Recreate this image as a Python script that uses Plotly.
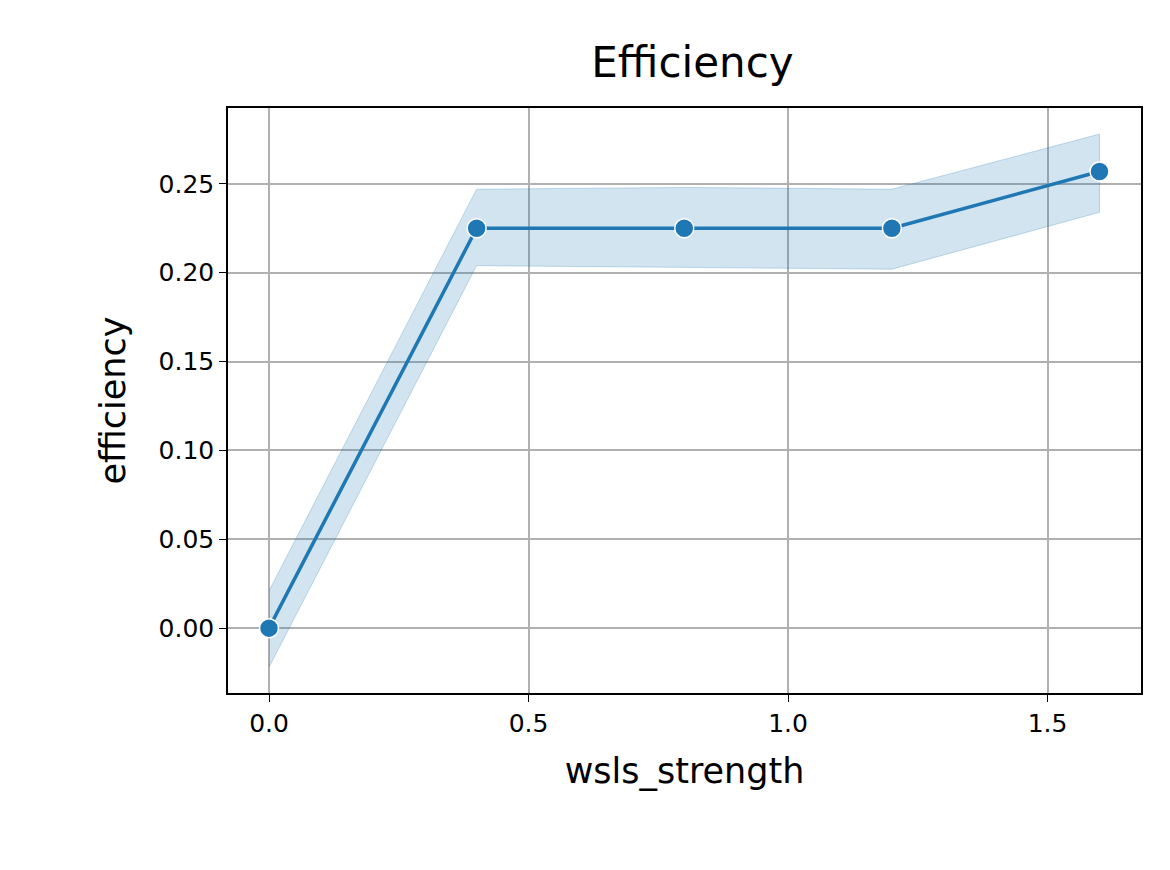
import plotly.graph_objects as go

x = [0.0, 0.4, 0.8, 1.2, 1.6]
mean = [0.0, 0.225, 0.225, 0.225, 0.257]
upper = [0.021, 0.247, 0.248, 0.247, 0.278]
lower = [-0.022, 0.204, 0.203, 0.202, 0.234]

fig = go.Figure()
fig.add_trace(go.Scatter(x=x + x[::-1], y=upper + lower[::-1], fill="toself", mode="lines",
                         fillcolor="rgba(31,119,180,0.2)",
                         line=dict(color="rgba(31,119,180,0.25)", width=1),
                         hoverinfo="skip", showlegend=False))
fig.add_trace(go.Scatter(x=x, y=mean, mode="lines+markers",
                         line=dict(color="#1f77b4", width=3.5),
                         marker=dict(size=19, color="#1f77b4", line=dict(color="white", width=1.5)),
                         showlegend=False))

axis = dict(showline=True, linecolor="black", linewidth=1.5, mirror=True,
            showgrid=True, gridcolor="#b0b0b0", gridwidth=1.5, zeroline=False,
            ticks="outside", ticklen=7, tickcolor="black",
            tickfont=dict(size=25, color="black"))
fig.update_xaxes(axis, range=[-0.079, 1.68], tickvals=[0, 0.5, 1.0, 1.5],
                 ticktext=["0.0", "0.5", "1.0", "1.5"],
                 title=dict(text="wsls_strength", font=dict(size=35, color="black"), standoff=22))
fig.update_yaxes(axis, range=[-0.0365, 0.2927],
                 tickvals=[0, 0.05, 0.10, 0.15, 0.20, 0.25],
                 ticktext=["0.00", "0.05", "0.10", "0.15", "0.20", "0.25"],
                 title=dict(text="efficiency", font=dict(size=35, color="black"), standoff=22))
fig.update_layout(width=1170, height=870, plot_bgcolor="white", paper_bgcolor="white",
                  font=dict(family="DejaVu Sans"),
                  margin=dict(l=220, r=37, t=100, b=185),
                  title=dict(text="Efficiency", x=0.585, xanchor="center", y=0.955,
                             font=dict(size=42, color="black")))
fig.write_html("out.html")
